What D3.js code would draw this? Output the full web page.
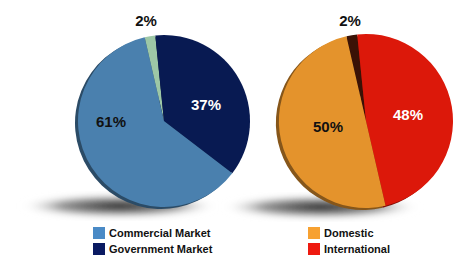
<!DOCTYPE html>
<html><head><meta charset="utf-8">
<script src="https://cdn.jsdelivr.net/npm/d3@7/dist/d3.min.js"></script>
<style>body{margin:0;background:#fff}svg{display:block}</style>
</head><body>
<script>
const leftLabels = ["Commercial Market", "Government Market", "Other"];
const leftValues = [61, 37, 2];
const leftColors = ["#4a80ae", "#081a52", "#9dc7a6"];
const leftLegend = ["#4a8ac6", "#0a1a62"];
const rightLabels = ["Domestic", "International", "Other"];
const rightValues = [50, 48, 2];
const rightColors = ["#e4932c", "#dc180a", "#3a1206"];
const rightLegend = ["#f7a131", "#ee1a10"];

const W = 455, H = 257;
const svg = d3.select("body").append("svg").attr("width", W).attr("height", H);
const defs = svg.append("defs");
const rg = defs.append("radialGradient").attr("id", "shadow");
rg.append("stop").attr("offset", "0%").attr("stop-color", "#222").attr("stop-opacity", 1);
rg.append("stop").attr("offset", "60%").attr("stop-color", "#666").attr("stop-opacity", 0.7);
rg.append("stop").attr("offset", "100%").attr("stop-color", "#fff").attr("stop-opacity", 0);
defs.append("filter").attr("id", "blur").append("feGaussianBlur").attr("stdDeviation", 3);

function drawPie(cx, cy, r, values, colors, labelPos, labelColors) {
  const order = [2, 1, 0];
  const pie = d3.pie().sort(null).value(i => values[i])
    .startAngle(-13 * Math.PI / 180).endAngle(-13 * Math.PI / 180 + 2 * Math.PI);
  const arcs = pie(order);
  const arc = d3.arc().innerRadius(0).outerRadius(r);
  svg.append("ellipse").attr("cx", cx - 45).attr("cy", cy + r - 1).attr("rx", 100).attr("ry", 12)
    .attr("fill", "url(#shadow)").attr("filter", "url(#blur)");
  const g = svg.append("g").attr("transform", `translate(${cx},${cy})`);
  g.append("g").attr("transform", "translate(-3,2)").selectAll("path").data(arcs).join("path")
    .attr("d", arc).attr("fill", d => d3.color(colors[d.data]).darker(1.5));
  g.append("g").selectAll("path").data(arcs).join("path")
    .attr("d", arc).attr("fill", d => colors[d.data]);
  labelPos.forEach((p, k) => {
    svg.append("text").attr("x", p[0]).attr("y", p[1]).attr("text-anchor", "middle")
      .attr("font-family", "Liberation Sans, Arial, sans-serif").attr("font-weight", "bold")
      .attr("font-size", 15).attr("fill", labelColors[k]).text(values[p[2]] + "%");
  });
}

drawPie(164, 121, 86, leftValues, leftColors,
  [[111, 127, 0], [206, 110, 1], [146, 26, 2]], ["#111", "#fff", "#111"]);
drawPie(366, 121, 87, rightValues, rightColors,
  [[328, 132, 0], [408, 120, 1], [350, 26, 2]], ["#111", "#fff", "#111"]);

function legend(x, y, labels, colors) {
  labels.forEach((t, i) => {
    svg.append("rect").attr("x", x).attr("y", y + i * 16 - 6).attr("width", 12).attr("height", 12)
      .attr("fill", colors[i]);
    svg.append("text").attr("x", x + 16).attr("y", y + i * 16 + 4)
      .attr("font-family", "Liberation Sans, Arial, sans-serif").attr("font-weight", "bold")
      .attr("font-size", 11).attr("fill", "#111").text(t);
  });
}
legend(93, 233, leftLabels.slice(0, 2), leftLegend);
legend(308, 233, rightLabels.slice(0, 2), rightLegend);
</script>
</body></html>
